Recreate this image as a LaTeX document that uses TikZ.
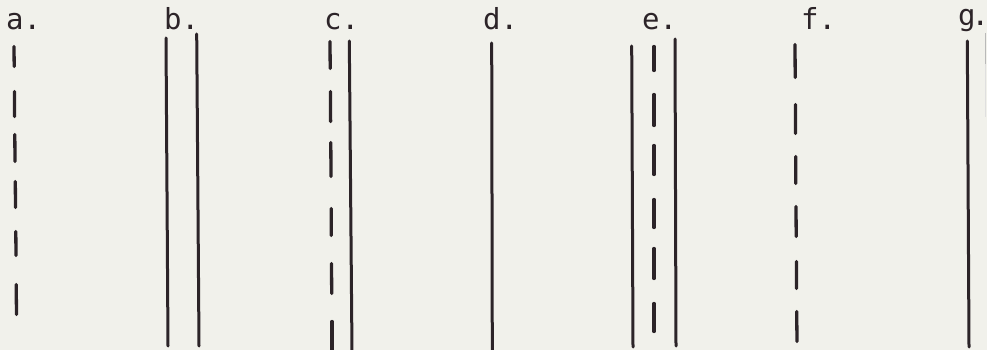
\documentclass[tikz,border=0pt]{standalone}
\usepackage{fontspec}
\setmonofont{DejaVu Sans Mono}
\definecolor{paper}{RGB}{241,241,235}
\definecolor{ink}{RGB}{44,36,40}
\tikzset{
  lbl/.style={anchor=base west, inner sep=0pt, text=ink, font=\ttfamily\fontsize{29}{31}\selectfont},
  solidline/.style={draw=ink, line width=3pt, line cap=round},
  dashseg/.style={draw=ink, line width=3.3pt, line cap=round},
}
\begin{document}
\begin{tikzpicture}[x=1pt,y=-1pt]
\fill[paper] (0,0) rectangle (987,350);
\useasboundingbox (0,0) rectangle (987,350);
% labels
\node[lbl] (la) at (6,30) {a.};
\node[lbl] (lb) at (164,30) {b.};
\node[lbl] (lc) at (324,30) {c.};
\node[lbl] (ld) at (483,30) {d.};
\node[lbl] (le) at (642,30) {e.};
\node[lbl] (lf) at (801,30) {f.};
\node[lbl] (lg) at (958,26) {g\kern-4pt.\kern-9pt};
% a: dashed
\draw[dashseg] (14,46.5) -- (14.2,66.5);
\draw[dashseg] (14.5,91.5) -- (14.6,116.5);
\draw[dashseg] (14.8,134.5) -- (15,161.5);
\draw[dashseg] (15.3,181.5) -- (15.5,207.5);
\draw[dashseg] (15.8,231.5) -- (16,255.5);
\draw[dashseg] (16.2,284.5) -- (16.5,314.5);
% b: two solid
\draw[solidline] (166,38) -- (168,346);
\draw[solidline] (196.7,34) -- (199,346);
% c: dashed + solid
\draw[dashseg] (330,41.5) -- (330.2,68.5);
\draw[dashseg] (330.5,91.5) -- (330.6,121.5);
\draw[dashseg] (330.8,142.5) -- (331,176.5);
\draw[dashseg] (331.2,208.5) -- (331.3,235.5);
\draw[dashseg] (331.5,263.5) -- (331.7,293.5);
\draw[dashseg] (332,321.5) -- (332,352);
\draw[solidline] (349.3,41) -- (352,352);
% d: solid
\draw[solidline] (491.7,43) -- (492.3,352);
% e: solid + dashed + solid
\draw[solidline] (631.7,46) -- (633,347);
\draw[dashseg] (654,46.5) -- (654,70.5);
\draw[dashseg] (654,94.5) -- (654,125.5);
\draw[dashseg] (654,145.5) -- (654,174.5);
\draw[dashseg] (654,199.5) -- (654,227.5);
\draw[dashseg] (654,248.5) -- (654,278.5);
\draw[dashseg] (654,303.5) -- (654,331.5);
\draw[solidline] (675,39) -- (676,346);
% f: dashed
\draw[dashseg] (795,44.5) -- (795.2,77.5);
\draw[dashseg] (795.4,104.5) -- (795.5,133.5);
\draw[dashseg] (795.7,156.5) -- (795.8,183.5);
\draw[dashseg] (796,206.5) -- (796.2,236.5);
\draw[dashseg] (796.4,261.5) -- (796.5,288.5);
\draw[dashseg] (796.7,311.5) -- (797,341.5);
% g: solid
\draw[solidline] (967.3,41) -- (969,347);
% faint edge mark
\draw[gray!55, line width=1pt] (985.5,33) -- (985.5,64);
\draw[gray!25, line width=1pt] (985.5,64) -- (985.5,117);
\end{tikzpicture}
\end{document}
